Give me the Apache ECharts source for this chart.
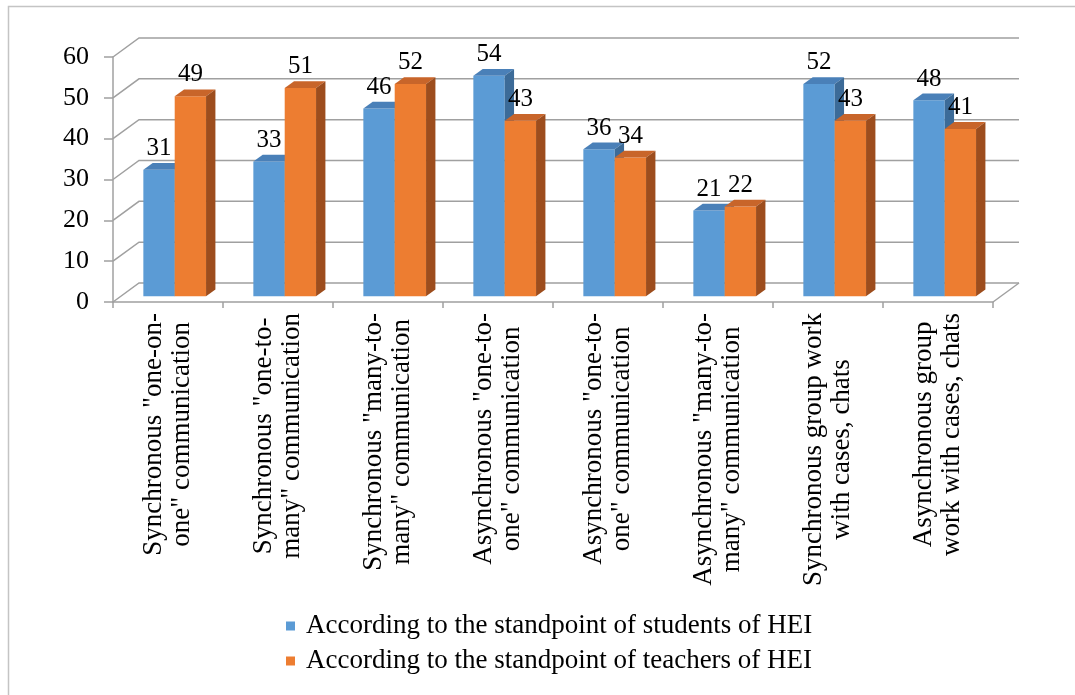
<!DOCTYPE html>
<html>
<head>
<meta charset="utf-8">
<script src="https://cdn.jsdelivr.net/npm/echarts@6/dist/echarts.min.js"></script>
<style>
  html, body { margin: 0; padding: 0; background: #fff; }
  #chart { width: 1075px; height: 695px; }
</style>
</head>
<body>
<div id="chart"></div>
<script>
// Communication formats (axis labels are wrapped onto two lines)
const categories = [
  'Synchronous "one-on-\none" communication',
  'Synchronous "one-to-\nmany" communication',
  'Synchronous "many-to-\nmany" communication',
  'Asynchronous "one-to-\none" communication',
  'Asynchronous "one-to-\none" communication',
  'Asynchronous "many-to-\nmany" communication',
  'Synchronous group work\nwith cases, chats',
  'Asynchronous group\nwork with cases, chats'
];
const seriesNames = [
  'According to the standpoint of students of HEI',
  'According to the standpoint of teachers of HEI'
];
const students = [31, 33, 46, 54, 36, 21, 52, 48];
const teachers = [49, 51, 52, 43, 34, 22, 43, 41];
const yTicks = [0, 10, 20, 30, 40, 50, 60];

// Pseudo-3D geometry: wall depth offset and bar depth span (fraction of wall depth)
const WALL_DX = 26, WALL_DY = -19;
const BAR_FRONT = 0.3, BAR_BACK = 0.66;
const GRID_COLOR = '#a0a0a0';
const FONT = '"Liberation Serif", "Times New Roman", serif';
const CAT_FONT_SIZE = 27, CAT_LINE_HEIGHT = 28;

const palette = [
  { front: '#5b9bd5', top: '#4a80b8', side: '#3c6b98' },
  { front: '#ed7d31', top: '#c8652a', side: '#9d4d1d' }
];

// Category labels: each line is centred inside the block by padding its end
const measureCtx = document.createElement('canvas').getContext('2d');
measureCtx.font = CAT_FONT_SIZE + 'px ' + FONT;
const catRich = {};
const catLabelText = categories.map(function (cat, i) {
  const lines = cat.split('\n');
  const widths = lines.map(l => measureCtx.measureText(l).width);
  const maxW = Math.max.apply(null, widths);
  return lines.map(function (l, j) {
    const name = 'c' + i + '_' + j;
    catRich[name] = {
      fontFamily: FONT, fontSize: CAT_FONT_SIZE, lineHeight: CAT_LINE_HEIGHT, color: '#000',
      padding: [0, (maxW - widths[j]) / 2, 0, 0]
    };
    return '{' + name + '|' + l + '}';
  }).join('\n');
});

function wallRenderer(params, api) {
  const cs = params.coordSys;
  const t = api.value(1);
  const y = api.coord([0, t])[1];
  const left = cs.x, right = cs.x + cs.width;
  const children = [{
    type: 'polyline',
    shape: { points: [[left, y], [left + WALL_DX, y + WALL_DY], [right + WALL_DX, y + WALL_DY]] },
    style: { stroke: GRID_COLOR, lineWidth: 1.5, fill: null }
  }];
  if (t === yTicks[0]) {
    children.push({
      type: 'line',
      shape: { x1: right, y1: y, x2: right + WALL_DX, y2: y + WALL_DY },
      style: { stroke: GRID_COLOR, lineWidth: 1.5 }
    });
  }
  return { type: 'group', children: children };
}

function barRenderer(idx) {
  const c = palette[idx];
  return function (params, api) {
    const cat = api.value(0), v = api.value(1);
    const base = api.coord([cat, 0]);
    const top = api.coord([cat, v]);
    const band = api.size([1, 0])[0];
    const w = band * 0.285;
    const fx = WALL_DX * BAR_FRONT, fy = WALL_DY * BAR_FRONT;
    const dx = WALL_DX * (BAR_BACK - BAR_FRONT), dy = WALL_DY * (BAR_BACK - BAR_FRONT);
    const x0 = base[0] + fx - band * 0.01 + (idx === 0 ? -w : 0);
    const x1 = x0 + w;
    const yb = base[1] + fy, yt = top[1] + fy;
    return {
      type: 'group',
      children: [
        { type: 'rect', shape: { x: x0, y: yt, width: w, height: yb - yt }, style: { fill: c.front } },
        { type: 'polygon', shape: { points: [[x0, yt], [x1, yt], [x1 + dx, yt + dy], [x0 + dx, yt + dy]] }, style: { fill: c.top } },
        { type: 'polygon', shape: { points: [[x1, yt], [x1 + dx, yt + dy], [x1 + dx, yb + dy], [x1, yb]] }, style: { fill: c.side } },
        {
          type: 'text',
          style: {
            text: String(v), x: x0 + w / 2, y: yt + dy - 2,
            align: 'center', verticalAlign: 'bottom',
            font: '25px ' + FONT, fill: '#000'
          }
        }
      ]
    };
  };
}

const chart = echarts.init(document.getElementById('chart'), null, { renderer: 'canvas' });
chart.setOption({
  animation: false,
  backgroundColor: '#fff',
  graphic: [{
    type: 'rect', silent: true, z: 100,
    shape: { x: 8.5, y: 6.5, width: 1200, height: 800 },
    style: { fill: null, stroke: '#c4c4c4', lineWidth: 1.5 }
  }],
  grid: { left: 113, right: 82, top: 57, bottom: 393 },
  legend: {
    orient: 'vertical', left: 286, top: 612, itemGap: 7, padding: 0,
    itemWidth: 9, itemHeight: 9, icon: 'rect',
    data: seriesNames,
    textStyle: { fontFamily: FONT, fontSize: 27, color: '#000', lineHeight: 28, padding: [0, 0, 0, 6] }
  },
  xAxis: {
    type: 'category', data: categories,
    axisLine: { show: true, lineStyle: { color: GRID_COLOR, width: 1.5 } },
    axisTick: { show: true, alignWithLabel: false, interval: 0, length: 6, lineStyle: { color: GRID_COLOR, width: 1.5 } },
    splitLine: { show: false },
    axisLabel: {
      interval: 0, rotate: 90, margin: 11,
      fontFamily: FONT, fontSize: CAT_FONT_SIZE, color: '#000', lineHeight: CAT_LINE_HEIGHT,
      formatter: function (s, i) { return catLabelText[i]; },
      rich: catRich
    }
  },
  yAxis: {
    type: 'value', min: yTicks[0], max: yTicks[yTicks.length - 1], interval: 10,
    axisLine: { show: true, lineStyle: { color: GRID_COLOR, width: 1.5 } },
    axisTick: { show: true, length: 9, lineStyle: { color: GRID_COLOR, width: 1.5 } },
    splitLine: { show: false },
    axisLabel: { margin: 24, fontFamily: FONT, fontSize: 26, color: '#000' }
  },
  series: [
    {
      type: 'custom', name: 'walls', silent: true, z: 1,
      renderItem: wallRenderer,
      encode: { x: 0, y: 1 },
      data: yTicks.map(t => [0, t])
    },
    {
      type: 'custom', name: seriesNames[0], z: 2,
      itemStyle: { color: palette[0].front },
      renderItem: barRenderer(0),
      encode: { x: 0, y: 1 },
      data: students.map((v, i) => [i, v])
    },
    {
      type: 'custom', name: seriesNames[1], z: 3,
      itemStyle: { color: palette[1].front },
      renderItem: barRenderer(1),
      encode: { x: 0, y: 1 },
      data: teachers.map((v, i) => [i, v])
    }
  ]
});
</script>
</body>
</html>
